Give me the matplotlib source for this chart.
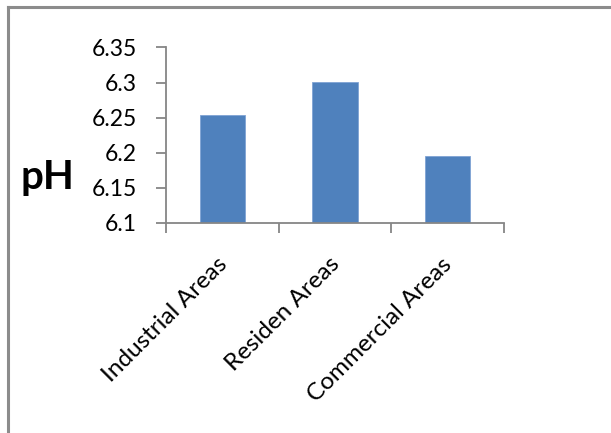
import matplotlib
matplotlib.use("Agg")
import matplotlib.pyplot as plt
from matplotlib.lines import Line2D
from matplotlib.transforms import ScaledTranslation

areas = ["Industrial Areas", "Residen Areas", "Commercial Areas"]
ph = [6.254, 6.301, 6.196]
yticks = [6.1, 6.15, 6.2, 6.25, 6.3, 6.35]
ytick_labels = ["6.1", "6.15", "6.2", "6.25", "6.3", "6.35"]

plt.rcParams["font.family"] = ["Lato", "DejaVu Sans"]

fig = plt.figure(figsize=(6.11, 4.33), dpi=100)
ax = fig.add_axes([0.2717, 0.485, 0.5532, 0.4055])

x = range(len(areas))
ax.bar(x, ph, width=0.4, color="#4F81BD", edgecolor="#7FA3D4", linewidth=0.6, zorder=2)

ax.set_xlim(-0.5, len(areas) - 0.5)
ax.set_ylim(6.1, 6.35)
ax.set_yticks(yticks)
ax.set_yticklabels(ytick_labels, fontsize=16.5)

# category ticks sit on the boundaries between groups
ax.set_xticks([i - 0.5 for i in range(len(areas) + 1)])
ax.set_xticklabels([])
ax.set_xticks(list(x), minor=True)
ax.set_xticklabels(areas, minor=True, rotation=45, ha="right", va="top",
                   rotation_mode="anchor", fontsize=17.5)
ax.tick_params(axis="x", which="minor", length=0, pad=22)
ax.tick_params(axis="x", which="major", length=7, width=1.3, color="#868686", direction="out")
ax.tick_params(axis="y", length=7, width=1.3, color="#868686", direction="out", pad=14)

shift = ScaledTranslation(-4.5 / 72, 0, fig.dpi_scale_trans)
for lbl in ax.get_xticklabels(minor=True):
    lbl.set_transform(lbl.get_transform() + shift)

for side in ["top", "right"]:
    ax.spines[side].set_visible(False)
for side in ["left", "bottom"]:
    ax.spines[side].set_color("#868686")
    ax.spines[side].set_linewidth(1.3)

fig.text(0.077, 0.59, "pH", fontsize=29, fontweight="bold", ha="center", va="center")

# chart frame lines along top and left edges
fig.add_artist(Line2D([0.013, 1.0], [0.983, 0.983], transform=fig.transFigure,
                      color="#8C8C8C", linewidth=2.2))
fig.add_artist(Line2D([0.013, 0.013], [0.0, 0.983], transform=fig.transFigure,
                      color="#8C8C8C", linewidth=2.2))

fig.savefig("out.png", dpi=100)
